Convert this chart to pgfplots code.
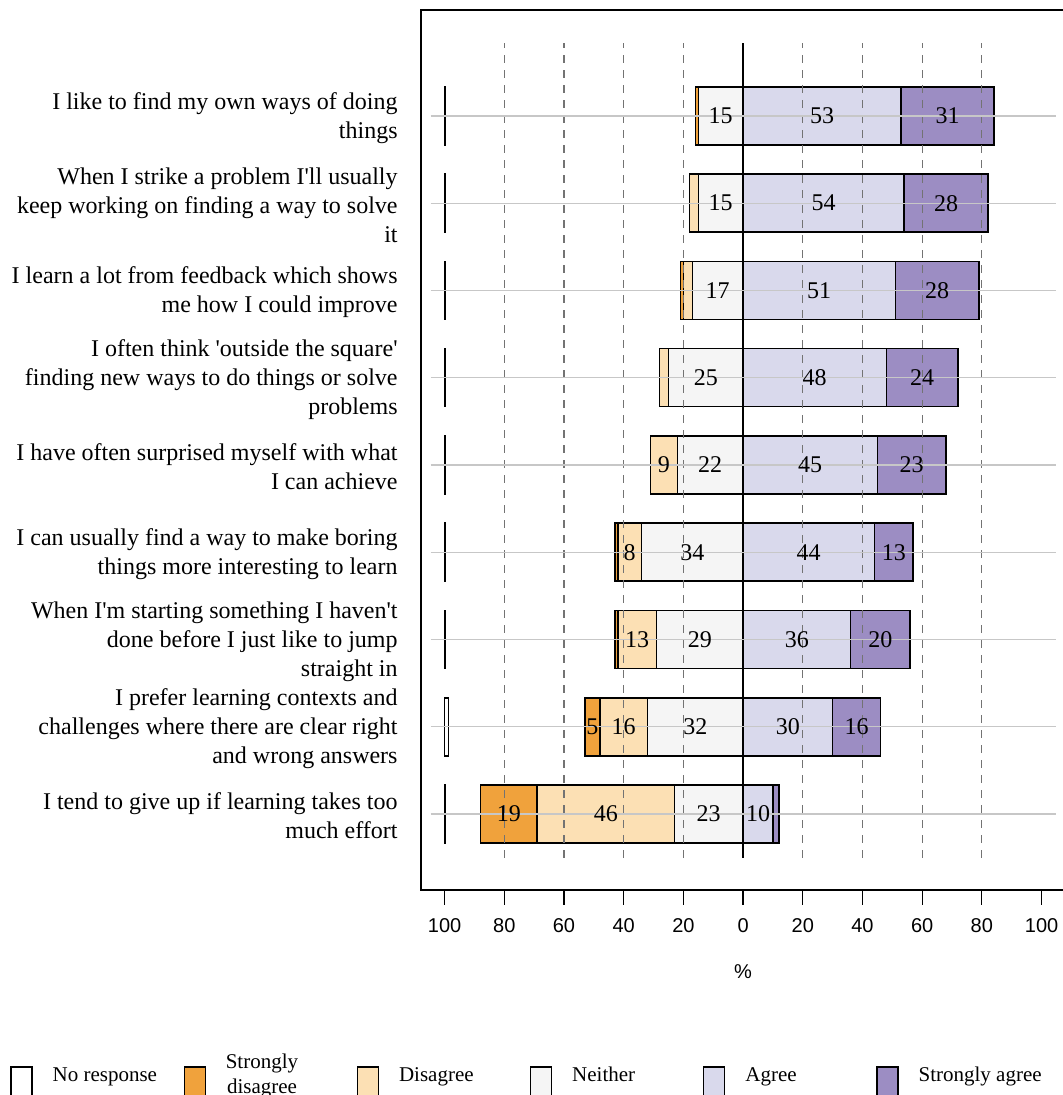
\documentclass[border=0pt]{standalone}
\usepackage{fontspec}
\setmainfont{Liberation Serif}
\setsansfont{Liberation Sans}
\newfontfamily\labfont{Liberation Serif}
\usepackage{pgfplots}
\usepackage{pgfplotstable}
\pgfplotsset{compat=1.18}

\definecolor{cSD}{HTML}{F0A23C}
\definecolor{cD}{HTML}{FCE0B4}
\definecolor{cN}{HTML}{F5F5F5}
\definecolor{cA}{HTML}{D9D9EC}
\definecolor{cSA}{HTML}{9C8DC3}

% x axis is shifted by +110 so that all stacked widths stay positive:
% axis value 110 is "0 %", 10 is "100 %" on the left, 210 is "100 %" on the right.
% pos 9 = top statement; off/gap are invisible spacers.
\pgfplotstableread{
pos off nr gap sd d n a sa
9 10 0.05 83.95 1 0 15 53 31
8 10 0.05 81.95 0 3 15 54 28
7 10 0.05 78.95 1 3 17 51 28
6 10 0.05 71.95 0 3 25 48 24
5 10 0.05 68.95 0 9 22 45 23
4 10 0.05 56.95 1 8 34 44 13
3 10 0.05 56.95 1 13 29 36 20
2 10 1.3 45.7 5 16 32 30 16
1 10 0.05 11.95 19 46 23 10 2
}\likert

\pgfplotsset{
  lab/.style={
    visualization depends on={\thisrow{#1}\as\segw},
    nodes near coords={\pgfmathparse{\segw<4?0:1}\ifnum\pgfmathresult=1 \pgfmathprintnumber[fixed,precision=0,assume math mode=true]{\segw}\fi},
    every node near coord/.style={anchor=center, inner sep=0pt,
      font=\fontsize{12}{14}\selectfont, text=black},
  },
}

\begin{document}
\begin{tikzpicture}
\path[use as bounding box] (0,0) rectangle (531pt,547.5pt);
\begin{axis}[
  at={(210.5pt,102.5pt)}, anchor=south west,
  scale only axis, width=325.5pt, height=440pt,
  xbar stacked, bar width=29pt,
  xmin=2.1, xmax=220.2, ymin=0.129, ymax=10.214,
  axis line style={line width=0.8pt},
  xtick={10,30,...,210},
  xticklabels={100,80,60,40,20,0,20,40,60,80,100},
  tick align=outside, xtick pos=left, major tick length=7.5pt,
  xtick style={black, line width=0.6pt},
  xticklabel style={font=\sffamily\fontsize{10}{12}\selectfont, yshift=-3pt},
  xlabel={\%},
  xlabel style={font=\sffamily\fontsize{10}{12}\selectfont,
    at={(axis description cs:0.4946,-0.0932)}, anchor=center},
  ytick={1,...,9},
  ytick style={draw=none},
  yticklabels={
    {I tend to give up if learning takes too\\much effort},
    {I prefer learning contexts and\\challenges where there are clear right\\and wrong answers},
    {When I\textquotesingle m starting something I haven\textquotesingle t\\done before I just like to jump\\straight in},
    {I can usually find a way to make boring\\things more interesting to learn},
    {I have often surprised myself with what\\I can achieve},
    {I often think \textquotesingle outside the square\textquotesingle\\finding new ways to do things or solve\\problems},
    {I learn a lot from feedback which shows\\me how I could improve},
    {When I strike a problem I\textquotesingle ll usually\\keep working on finding a way to solve\\it},
    {I like to find my own ways of doing\\things},
  },
  yticklabel style={align=right, inner sep=0pt, xshift=-4pt, yshift=-1pt,
    font=\labfont\fontsize{12}{14.5}\selectfont},
  legend columns=6,
  legend cell align=left,
  legend style={at={(-0.6313,-0.2114)}, anchor=west, draw=none, fill=none,
    inner sep=0pt, font=\fontsize{10.5}{13}\selectfont, nodes={inner sep=0pt},
    /tikz/every odd column/.append style={column sep=10pt}},
  legend image code/.code={\draw[#1, draw=black, line width=0.6pt] (0pt,-10.5pt) rectangle (10.5pt,4.5pt);},
]
\pgfplotsinvokeforeach{1,...,9}{\draw[black!22, line width=0.6pt] (axis cs:5.3,#1) -- (axis cs:215,#1);}
\pgfplotsinvokeforeach{30,50,70,90,130,150,170,190}{\draw[black!55, line width=0.6pt, dash pattern=on 4pt off 3.5pt] (axis cs:#1,0.496) -- (axis cs:#1,9.836);}

\addplot[draw=none, fill=none, forget plot] table[x=off, y=pos] {\likert};
\addplot[fill=white, draw=black, line width=0.8pt] table[x=nr, y=pos] {\likert};
\addlegendentry{\makebox[65.5pt][l]{No response}}
\addplot[draw=none, fill=none, forget plot] table[x=gap, y=pos] {\likert};
\addplot[fill=cSD, draw=black, line width=0.8pt, lab=sd] table[x=sd, y=pos] {\likert};
\addlegendentry{\makebox[65.5pt][l]{\raisebox{1pt}{\shortstack{Strongly\\disagree}}}}
\addplot[fill=cD, draw=black, line width=0.8pt, lab=d] table[x=d, y=pos] {\likert};
\addlegendentry{\makebox[65.5pt][l]{Disagree}}
\addplot[fill=cN, draw=black, line width=0.8pt, lab=n] table[x=n, y=pos] {\likert};
\addlegendentry{\makebox[65.5pt][l]{Neither}}
\addplot[fill=cA, draw=black, line width=0.8pt, lab=a] table[x=a, y=pos] {\likert};
\addlegendentry{\makebox[65.5pt][l]{Agree}}
\addplot[fill=cSA, draw=black, line width=0.8pt, lab=sa] table[x=sa, y=pos] {\likert};
\addlegendentry{\makebox[65.5pt][l]{Strongly agree}}

\draw[black, line width=0.7pt] (axis cs:110,0.5) -- (axis cs:110,9.83);
\end{axis}
\end{tikzpicture}
\end{document}
